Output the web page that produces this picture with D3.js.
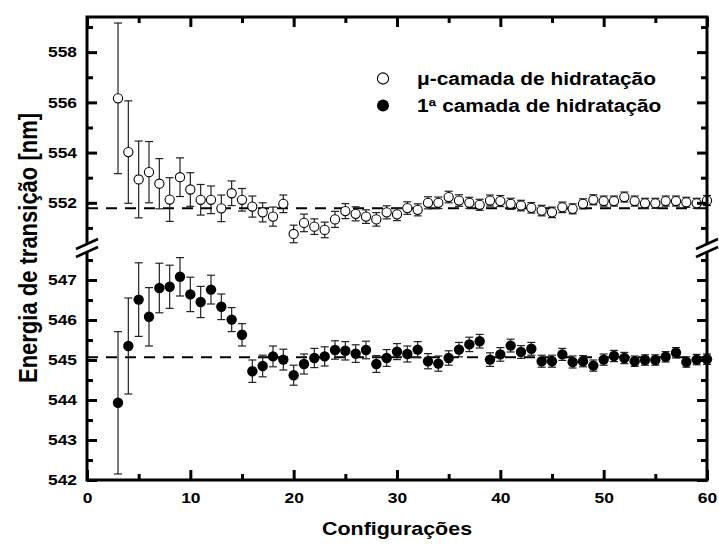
<!DOCTYPE html>
<html><head><meta charset="utf-8">
<script src="https://cdn.jsdelivr.net/npm/d3@7"></script>
<style>
body{margin:0;background:#fff}
text{font-family:"Liberation Sans",Arial,sans-serif;font-weight:bold;fill:#000}
</style>
</head><body><svg id="c" width="719" height="544"></svg>
<script>
const configs = [3,4,5,6,7,8,9,10,11,12,13,14,15,16,17,18,19,20,21,22,23,24,25,26,27,28,29,30,31,32,33,34,35,36,37,38,39,40,41,42,43,44,45,46,47,48,49,50,51,52,53,54,55,56,57,58,59,60];
const muValues = [556.16,554.02,552.93,553.22,552.76,552.13,553.02,552.53,552.12,552.12,551.78,552.38,552.12,551.85,551.62,551.45,551.96,550.76,551.2,551.05,550.92,551.34,551.67,551.56,551.45,551.34,551.62,551.54,551.79,551.72,552.0,552.0,552.23,552.09,552.0,551.92,552.09,552.07,551.96,551.89,551.8,551.69,551.62,551.82,551.76,551.96,552.12,552.07,552.07,552.23,552.07,551.98,551.98,552.07,552.07,552.02,551.98,552.09];
const muErrors = [3.0,2.04,1.53,1.22,1.0,0.87,0.77,0.67,0.61,0.55,0.53,0.49,0.45,0.42,0.38,0.38,0.35,0.35,0.35,0.31,0.31,0.32,0.3,0.28,0.27,0.27,0.26,0.25,0.25,0.24,0.24,0.23,0.23,0.23,0.22,0.22,0.22,0.22,0.22,0.21,0.21,0.21,0.21,0.21,0.2,0.2,0.2,0.2,0.2,0.2,0.2,0.2,0.2,0.2,0.2,0.2,0.2,0.2];
const firstValues = [543.93,545.35,546.51,546.08,546.8,546.83,547.08,546.64,546.45,546.76,546.33,546.01,545.63,544.72,544.85,545.09,545.01,544.62,544.9,545.05,545.09,545.25,545.23,545.16,545.25,544.9,545.05,545.21,545.15,545.26,544.97,544.91,545.05,545.26,545.39,545.47,545.01,545.14,545.36,545.2,545.28,544.97,544.97,545.14,544.95,544.97,544.86,545.01,545.1,545.05,544.97,545.0,545.0,545.08,545.18,544.95,545.01,545.02];
const firstErrors = [1.78,1.2,0.92,0.73,0.62,0.54,0.48,0.43,0.39,0.36,0.32,0.3,0.28,0.28,0.27,0.26,0.26,0.25,0.25,0.24,0.24,0.23,0.23,0.22,0.22,0.21,0.21,0.2,0.2,0.2,0.19,0.19,0.18,0.18,0.18,0.17,0.17,0.17,0.16,0.16,0.16,0.15,0.15,0.15,0.15,0.14,0.14,0.14,0.14,0.14,0.13,0.13,0.13,0.13,0.13,0.13,0.13,0.13];
const muMean = 551.78;
const firstMean = 545.07;
const xTicks = [0,10,20,30,40,50,60];
const xMinorTicks = [5,15,25,35,45,55];
const yUpperTicks = [552,554,556,558];
const yUpperMinor = [551,553,555,557,559];
const yLowerTicks = [542,543,544,545,546,547];
const yLowerMinor = [542.5,543.5,544.5,545.5,546.5,547.5];
const legendLabels = ["\u03bc-camada de hidrata\u00e7\u00e3o","1\u00aa camada de hidrata\u00e7\u00e3o"];
const xTitle = "Configura\u00e7\u00f5es";
const yTitle = "Energia de transi\u00e7\u00e3o [nm]";

const SX = 1.16;
const L = 87, R = 707, T = 17, B = 480, BRK = 248;
const svg = d3.select('#c');

const x = d3.scaleLinear().domain([0,60]).range([L,R]);
const yU = d3.scaleLinear().domain([550.2,559.4]).range([BRK,T]);
const yL = d3.scaleLinear().domain([542,547.8]).range([B,BRK]);

const muData = configs.map((c,i)=>({x:c,v:muValues[i],e:muErrors[i]}));
const firstData = configs.map((c,i)=>({x:c,v:firstValues[i],e:firstErrors[i]}));

// dashed mean lines
[[yU,muMean],[yL,firstMean]].forEach(([ys,m])=>{
  svg.append('line').attr('x1',x(0)).attr('x2',x(60)).attr('y1',ys(m)).attr('y2',ys(m))
    .attr('stroke','#000').attr('stroke-width',2).attr('stroke-dasharray','11,8');
});

function errorBars(data, ys){
  const g = svg.append('g').attr('stroke','#222').attr('stroke-width',1.2);
  data.forEach(d=>{
    const cx = x(d.x), y1 = ys(d.v+d.e), y2 = ys(d.v-d.e);
    g.append('line').attr('x1',cx).attr('x2',cx).attr('y1',y1).attr('y2',y2);
    g.append('line').attr('x1',cx-4).attr('x2',cx+4).attr('y1',y1).attr('y2',y1);
    g.append('line').attr('x1',cx-4).attr('x2',cx+4).attr('y1',y2).attr('y2',y2);
  });
}
errorBars(muData, yU);
errorBars(firstData, yL);

svg.append('g').selectAll('circle').data(muData).join('circle')
  .attr('cx',d=>x(d.x)).attr('cy',d=>yU(d.v)).attr('r',4.6)
  .attr('fill','#fff').attr('stroke','#000').attr('stroke-width',1.1);
svg.append('g').selectAll('circle').data(firstData).join('circle')
  .attr('cx',d=>x(d.x)).attr('cy',d=>yL(d.v)).attr('r',5.2)
  .attr('fill','#000');

// axes
function styleAxis(g){
  g.select('.domain').remove();
  g.selectAll('.tick line').attr('stroke','#000').attr('stroke-width',3);
  g.selectAll('text').style('font-size','15px').attr('fill','#000');
}
function leftAxis(ys, ticks, minor){
  const g = svg.append('g').attr('transform',`translate(${L},0)`)
    .call(d3.axisLeft(ys).tickValues(ticks).tickSize(-10).tickPadding(10).tickFormat(d3.format('d')));
  styleAxis(g);
  g.selectAll('text').attr('x',-10/SX).attr('transform',`scale(${SX},1)`);
  const gm = svg.append('g').attr('transform',`translate(${L},0)`)
    .call(d3.axisLeft(ys).tickValues(minor).tickSize(-6).tickFormat(''));
  styleAxis(gm);
  const gr = svg.append('g').attr('transform',`translate(${R},0)`)
    .call(d3.axisRight(ys).tickValues(ticks).tickSize(-10).tickFormat(''));
  styleAxis(gr);
  const grm = svg.append('g').attr('transform',`translate(${R},0)`)
    .call(d3.axisRight(ys).tickValues(minor).tickSize(-6).tickFormat(''));
  styleAxis(grm);
}
leftAxis(yU, yUpperTicks, yUpperMinor);
leftAxis(yL, yLowerTicks, yLowerMinor);

const gb = svg.append('g').attr('transform',`translate(0,${B})`)
  .call(d3.axisBottom(x).tickValues(xTicks).tickSize(-10).tickPadding(12).tickFormat(d3.format('d')));
styleAxis(gb);
gb.selectAll('text').attr('transform',`scale(${SX},1)`).attr('x',0);
const gbm = svg.append('g').attr('transform',`translate(0,${B})`)
  .call(d3.axisBottom(x).tickValues(xMinorTicks).tickSize(-6).tickFormat(''));
styleAxis(gbm);
const gt = svg.append('g').attr('transform',`translate(0,${T})`)
  .call(d3.axisTop(x).tickValues(xTicks).tickSize(-10).tickFormat(''));
styleAxis(gt);
const gtm = svg.append('g').attr('transform',`translate(0,${T})`)
  .call(d3.axisTop(x).tickValues(xMinorTicks).tickSize(-6).tickFormat(''));
styleAxis(gtm);

// frame
svg.append('rect').attr('x',L).attr('y',T).attr('width',R-L).attr('height',B-T)
  .attr('fill','none').attr('stroke','#000').attr('stroke-width',3);

// axis breaks
[L,R].forEach(ax=>{
  const g = svg.append('g');
  g.append('polygon').attr('points',`${ax-10},${BRK+1} ${ax+10},${BRK-8} ${ax+10},${BRK-1} ${ax-10},${BRK+8}`).attr('fill','#fff');
  g.append('line').attr('x1',ax-11).attr('y1',BRK+1).attr('x2',ax+11).attr('y2',BRK-9).attr('stroke','#000').attr('stroke-width',2.5);
  g.append('line').attr('x1',ax-11).attr('y1',BRK+9).attr('x2',ax+11).attr('y2',BRK-1).attr('stroke','#000').attr('stroke-width',2.5);
});

// legend
const lg = svg.append('g');
lg.append('circle').attr('cx',383).attr('cy',78.5).attr('r',5.6).attr('fill','#fff').attr('stroke','#000').attr('stroke-width',1.1);
lg.append('circle').attr('cx',383).attr('cy',105.5).attr('r',6).attr('fill','#000');
legendLabels.forEach((s,i)=>{
  lg.append('text').attr('transform',`translate(417,${85+i*27}) scale(${SX},1)`)
    .style('font-size','18px').text(s);
});

// titles
svg.append('text').attr('transform',`translate(${(L+R)/2},535) scale(${SX},1)`)
  .attr('text-anchor','middle').style('font-size','18.5px').text(xTitle);
svg.append('text').attr('transform',`translate(37,248) rotate(-90) scale(1,${SX})`)
  .attr('text-anchor','middle').style('font-size','22px').text(yTitle);
</script></body></html>
